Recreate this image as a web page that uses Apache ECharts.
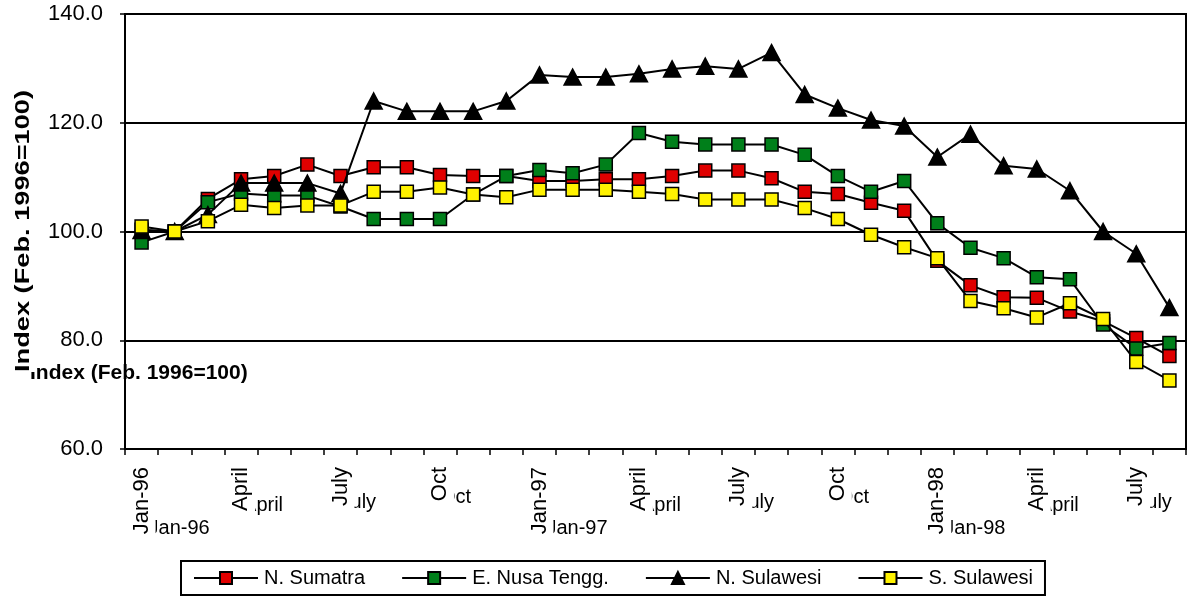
<!DOCTYPE html>
<html>
<head>
<meta charset="utf-8">
<script src="https://cdn.jsdelivr.net/npm/echarts@6/dist/echarts.min.js"></script>
<style>
html,body{margin:0;padding:0;background:#fff;}
#c{width:1188px;height:600px;}
</style>
</head>
<body>
<div id="c"></div>
<script>
const categories = ['Jan-96','Feb','Mar','April','May','June','July','Aug','Sep','Oct','Nov','Dec',
  'Jan-97','Feb','Mar','April','May','June','July','Aug','Sep','Oct','Nov','Dec',
  'Jan-98','Feb','Mar','April','May','June','July','Aug'];
const seriesNames = ['N. Sumatra','E. Nusa Tengg.','N. Sulawesi','S. Sulawesi'];
const nSumatra = [100.3,100.0,106.0,109.6,110.2,112.3,110.2,111.8,111.8,110.4,110.2,110.2,
  109.3,109.3,109.6,109.6,110.2,111.2,111.2,109.8,107.3,106.9,105.3,103.8,
  94.6,90.1,87.9,87.8,85.3,83.5,80.4,77.1];
const eNusaTengg = [98.0,100.0,105.4,107.0,106.6,106.6,104.6,102.3,102.3,102.3,106.8,110.2,
  111.3,110.7,112.3,118.1,116.5,116.0,116.0,116.0,114.1,110.2,107.3,109.3,
  101.5,97.0,95.1,91.6,91.2,82.9,78.5,79.5];
const nSulawesi = [100.2,100.0,103.1,108.9,108.9,108.9,107.0,124.0,122.1,122.1,122.1,124.0,
  128.8,128.4,128.4,129.0,129.9,130.4,129.9,132.9,125.2,122.7,120.5,119.4,
  113.7,117.9,112.1,111.5,107.5,100.0,95.9,86.0];
const sSulawesi = [100.9,100.0,101.9,104.9,104.3,104.8,104.8,107.3,107.3,108.1,106.8,106.3,
  107.7,107.7,107.7,107.3,106.9,105.9,105.9,105.9,104.3,102.3,99.4,97.1,
  95.1,87.2,85.9,84.2,86.8,83.9,76.0,72.6];
const yTicks = {min: 60, max: 140, interval: 20};
const yTitle = 'Index (Feb. 1996=100)';

const fill = ['#E00000', '#007F1A', '#000000', '#FFF200'];
const values = [nSumatra, eNusaTengg, nSulawesi, sSulawesi];
const symbols = ['rect', 'rect', 'triangle', 'rect'];
const FONT = "'Liberation Sans', Arial, sans-serif";

const chart = echarts.init(document.getElementById('c'), null, {renderer: 'canvas'});

function hzLabel(v) {
  if (v.indexOf('Jan') === 0) return '{j|' + v + '}';
  if (v === 'April') return '{a|' + v + '}';
  if (v === 'July') return '{u|' + v + '}';
  return '{o|' + v + '}';
}
const richBase = {fontFamily: FONT, fontSize: 20, color: '#000', lineHeight: 22};

chart.setOption({
  animation: false,
  backgroundColor: '#fff',
  grid: {left: 125, right: 2, top: 14, bottom: 151, show: true, borderColor: '#000', borderWidth: 2, backgroundColor: 'transparent'},
  xAxis: [{
    type: 'category',
    data: categories,
    boundaryGap: true,
    z: 10,
    axisLine: {show: true, lineStyle: {color: '#000', width: 2}},
    axisTick: {show: true, interval: 0, length: 6, lineStyle: {color: '#000', width: 1.5}},
    axisLabel: {
      interval: 2, rotate: 90, margin: 18, hideOverlap: false,
      fontFamily: FONT, fontSize: 22, color: '#000',
      backgroundColor: '#fff', padding: [0, 0, 0, 4], lineHeight: 28
    },
    splitLine: {show: false}
  }, {
    type: 'category',
    data: categories,
    boundaryGap: true,
    position: 'bottom',
    z: 1,
    axisLine: {show: false},
    axisTick: {show: false},
    axisLabel: {
      interval: 2, rotate: 0, margin: 8, hideOverlap: false,
      align: 'left', verticalAlign: 'top',
      formatter: hzLabel,
      rich: {
        j: Object.assign({padding: [120, 0, 0, 7]}, richBase),
        a: Object.assign({padding: [74, 0, 0, 2]}, richBase),
        u: Object.assign({padding: [68, 0, 0, 0]}, richBase),
        o: Object.assign({padding: [58, 0, 0, 0]}, richBase)
      }
    },
    splitLine: {show: false}
  }],
  yAxis: {
    type: 'value',
    min: yTicks.min, max: yTicks.max, interval: yTicks.interval,
    axisLine: {show: true, lineStyle: {color: '#000', width: 2}},
    axisTick: {show: true, length: 5, lineStyle: {color: '#000', width: 1.5}},
    axisLabel: {margin: 22, fontFamily: FONT, fontSize: 22, color: '#000', formatter: v => v.toFixed(1)},
    splitLine: {show: true, lineStyle: {color: '#000', width: 2}}
  },
  legend: {
    data: seriesNames,
    left: 181, top: 561,
    orient: 'horizontal',
    itemWidth: 64, itemHeight: 15, itemGap: 36,
    padding: [7, 12, 7, 12],
    borderColor: '#000', borderWidth: 2,
    textStyle: {fontFamily: FONT, fontSize: 20, color: '#000', padding: [0, 0, 0, 1]}
  },
  graphic: [{
    type: 'text', z: 10,
    x: 30, y: 373,
    style: {text: yTitle, font: "bold 21px 'Liberation Sans', Arial, sans-serif", fill: '#000', align: 'left', verticalAlign: 'middle'}
  }, {
    type: 'text', z: 20,
    x: 23, y: 231,
    rotation: Math.PI / 2,
    scaleX: 1.36,
    style: {text: yTitle, font: "bold 20px 'Liberation Sans', Arial, sans-serif", fill: '#000', align: 'center', verticalAlign: 'middle', backgroundColor: '#fff', padding: [3, 0, 3, 0]}
  }],
  series: seriesNames.map((name, i) => ({
    name: name,
    type: 'line',
    xAxisIndex: 0,
    data: values[i],
    symbol: symbols[i],
    symbolSize: symbols[i] === 'triangle' ? [17, 16] : 13,
    showAllSymbol: true,
    lineStyle: {color: '#000', width: 2},
    itemStyle: {color: fill[i], borderColor: '#000', borderWidth: 1.5},
    emphasis: {disabled: true},
    z: 3 + i
  }))
});
</script>
</body>
</html>
